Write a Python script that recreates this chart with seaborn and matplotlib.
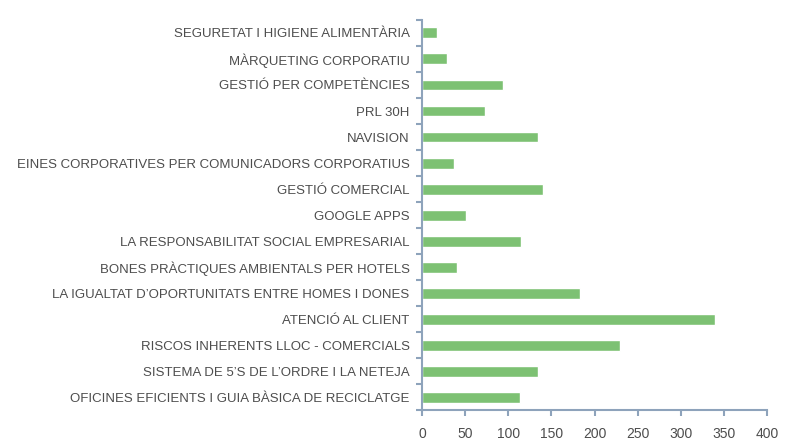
import matplotlib
matplotlib.use('Agg')
import matplotlib.pyplot as plt
import seaborn as sns
import numpy as np
import pandas as pd

# Dades (de dalt a baix)
cursos = [
    'SEGURETAT I HIGIENE ALIMENTÀRIA',
    'MÀRQUETING CORPORATIU',
    'GESTIÓ PER COMPETÈNCIES',
    'PRL 30H',
    'NAVISION',
    'EINES CORPORATIVES PER COMUNICADORS CORPORATIUS',
    'GESTIÓ COMERCIAL',
    'GOOGLE APPS',
    'LA RESPONSABILITAT SOCIAL EMPRESARIAL',
    'BONES PRÀCTIQUES AMBIENTALS PER HOTELS',
    "LA IGUALTAT D'OPORTUNITATS ENTRE HOMES I DONES",
    'ATENCIÓ AL CLIENT',
    'RISCOS INHERENTS LLOC - COMERCIALS',
    "SISTEMA DE 5'S DE L'ORDRE I LA NETEJA",
    'OFICINES EFICIENTS I GUIA BÀSICA DE RECICLATGE',
]
participants = [17, 29, 94, 73, 134, 37, 140, 51, 115, 41, 183, 340, 229, 134, 114]
xticks = [0, 50, 100, 150, 200, 250, 300, 350, 400]

cursos = [c.replace("'", "\u2019") for c in cursos]
df = pd.DataFrame({'curs': cursos, 'participants': participants})

sns.set_style('white')
plt.rcParams['font.family'] = ['Liberation Sans', 'DejaVu Sans']

spine_color = '#8ea3bb'
text_color = '#4d4d4d'

fig = plt.figure(figsize=(7.89, 4.43), dpi=100)
ax = fig.add_axes([0.535, 0.074, 0.437, 0.881])

sns.barplot(data=df, x='participants', y='curs', orient='h', color='#7dc173',
            saturation=1, width=0.42, ax=ax)

ax.set_xlim(0, 400)
ax.set_ylim(len(cursos) - 0.5, -0.5)
ax.set_xticks(xticks)
ax.set_xlabel('')
ax.set_ylabel('')

for s in ['top', 'right']:
    ax.spines[s].set_visible(False)
for s in ['left', 'bottom']:
    ax.spines[s].set_color(spine_color)
    ax.spines[s].set_linewidth(1.5)

# marques entre categories
ax.set_yticks(np.arange(-0.5, len(cursos), 1), minor=True)
ax.tick_params(axis='y', which='minor', length=4, width=1.5, color=spine_color, left=True)
ax.tick_params(axis='y', which='major', length=0, pad=9, labelsize=9.5, labelcolor=text_color)
ax.tick_params(axis='x', which='major', length=4.5, width=1.5, color=spine_color,
               bottom=True, pad=7.5, labelsize=10, labelcolor=text_color)

fig.savefig('out.png', dpi=100)
